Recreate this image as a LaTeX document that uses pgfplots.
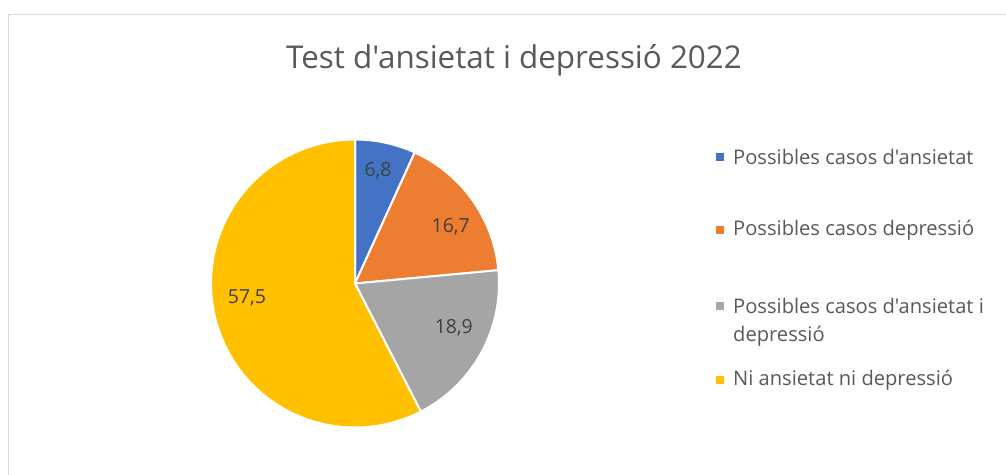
\documentclass[border=0pt]{standalone}
\usepackage{pgfplots}
\pgfplotsset{compat=1.18}
\usepackage{pgfplotstable}
\usepackage{fontspec}
\setmainfont{Open Sans}[Ligatures=TeXOff]
\definecolor{cA}{HTML}{4472C4}
\definecolor{cB}{HTML}{ED7D31}
\definecolor{cC}{HTML}{A5A5A5}
\definecolor{cD}{HTML}{FFC000}
\definecolor{txt}{HTML}{595959}
\definecolor{lbl}{HTML}{404040}
\definecolor{frame}{HTML}{D9D9D9}
% data values (percent)
\newcommand\vA{6.8}
\newcommand\vB{16.7}
\newcommand\vC{18.9}
\newcommand\vD{57.5}
\pgfmathsetmacro\tot{\vA+\vB+\vC+\vD}
\pgfmathsetmacro\k{360/\tot}
\pgfmathsetmacro\aA{90}
\pgfmathsetmacro\aB{\aA-\k*\vA}
\pgfmathsetmacro\aC{\aB-\k*\vB}
\pgfmathsetmacro\aD{\aC-\k*\vC}
\pgfmathsetmacro\aE{\aD-\k*\vD}
\begin{document}
\begin{tikzpicture}[x=1bp,y=1bp]
\useasboundingbox (0,0) rectangle (1006,-475);
\fill[white] (0,0) rectangle (1006,-475);
\draw[frame, line width=1.2bp] (8.5,-480) -- (8.5,-14.5) -- (1010,-14.5);
\node[text=txt, font=\fontsize{31.5}{36}\selectfont] at (514,-60) {Test d'ansietat i depressió 2022};
\begin{axis}[at={(355bp,-283.5bp)}, anchor=center, x=144bp, y=144bp,
  xmin=-1, xmax=1, ymin=-1, ymax=1, hide axis, clip=false, scale only axis]
\addplot[fill=cA, draw=white, line width=2bp, domain=\aB:\aA, samples=40, variable=\t] ({cos(\t)},{sin(\t)}) -- (0,0) -- cycle;
\addplot[fill=cB, draw=white, line width=2bp, domain=\aC:\aB, samples=60, variable=\t] ({cos(\t)},{sin(\t)}) -- (0,0) -- cycle;
\addplot[fill=cC, draw=white, line width=2bp, domain=\aD:\aC, samples=60, variable=\t] ({cos(\t)},{sin(\t)}) -- (0,0) -- cycle;
\addplot[fill=cD, draw=white, line width=2bp, domain=\aE:\aD, samples=150, variable=\t] ({cos(\t)},{sin(\t)}) -- (0,0) -- cycle;
\node[text=lbl, font=\fontsize{19.5}{23}\selectfont] at (axis cs:0.16,0.78) {6,8};
\node[text=lbl, font=\fontsize{19.5}{23}\selectfont] at (axis cs:0.665,0.397) {16,7};
\node[text=lbl, font=\fontsize{19.5}{23}\selectfont] at (axis cs:0.686,-0.31) {18,9};
\node[text=lbl, font=\fontsize{19.5}{23}\selectfont] at (axis cs:-0.75,-0.097) {57,5};
\end{axis}
\begin{scope}[every node/.style={text=txt, font=\fontsize{20.2}{30}\selectfont, anchor=west, inner sep=0pt}]
\fill[cA] (716,-153) rectangle (724,-161);
\node at (733,-157) {Possibles casos d'ansietat};
\fill[cB] (716,-226) rectangle (724,-234);
\node at (733,-230) {Possibles casos depressió};
\fill[cC] (716,-302) rectangle (724,-310);
\node at (733,-306) {Possibles casos d'ansietat i};
\node at (733,-336) {depressió};
\fill[cD] (716,-376) rectangle (724,-384);
\node at (733,-380) {Ni ansietat ni depressió};
\end{scope}
\end{tikzpicture}
\end{document}
